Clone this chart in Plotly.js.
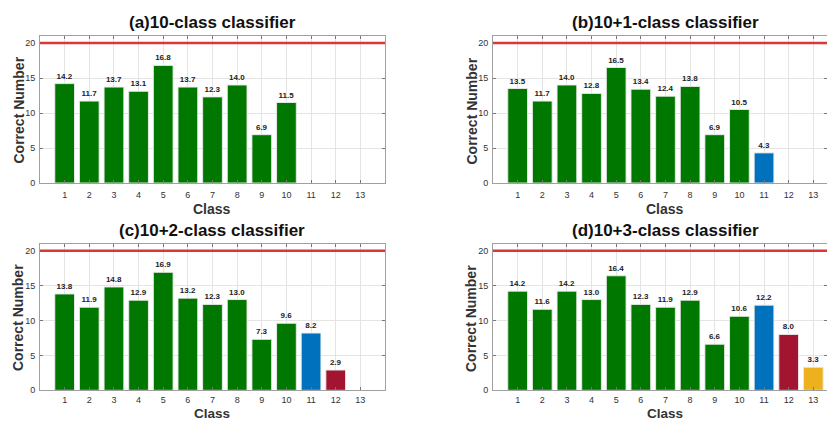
<!DOCTYPE html>
<html>
<head>
<meta charset="utf-8">
<script src="https://cdn.plot.ly/plotly-3.0.1.min.js"></script>
<style>html,body{margin:0;padding:0;background:#fff;}#chart{width:827px;height:421px;}</style>
</head>
<body>
<div id="chart"></div>
<script>
var classTicks = [1,2,3,4,5,6,7,8,9,10,11,12,13];
var titles = ["(a)10-class classifier","(b)10+1-class classifier","(c)10+2-class classifier","(d)10+3-class classifier"];
var valuesA = [14.2,11.7,13.7,13.1,16.8,13.7,12.3,14.0,6.9,11.5];
var valuesB = [13.5,11.7,14.0,12.8,16.5,13.4,12.4,13.8,6.9,10.5,4.3];
var valuesC = [13.8,11.9,14.8,12.9,16.9,13.2,12.3,13.0,7.3,9.6,8.2,2.9];
var valuesD = [14.2,11.6,14.2,13.0,16.4,12.3,11.9,12.9,6.6,10.6,12.2,8.0,3.3];
var targetLine = 20;
var yTicks = [0,5,10,15,20];

var classColors = ['#007800','#007800','#007800','#007800','#007800','#007800','#007800','#007800','#007800','#007800','#0072BD','#A2142F','#EDB120'];

var W = 827, H = 421;
function px(x){return x/W;}
function py(y){return 1 - y/H;}

var panels = [
  {vals: valuesA, x0: 40, x1: 385, y0: 36, y1: 183, xr: [0,14], cls: 25.5, cs: 14, so: 3},
  {vals: valuesB, x0: 493, x1: 827, y0: 36, y1: 183, xr: [0,(827-493)/24.64], cls: 25.5, cs: 14, so: 3},
  {vals: valuesC, x0: 40, x1: 385, y0: 243.7, y1: 390.3, xr: [0,14], cls: 23.2, cs: 13.5, so: 1},
  {vals: valuesD, x0: 493, x1: 827, y0: 243.7, y1: 390.3, xr: [0,(827-493)/24.64], cls: 23.2, cs: 13.5, so: 1}
];

var data = [], shapes = [], annotations = [];
var layout = {
  width: W, height: H,
  margin: {l:0,r:0,t:0,b:0},
  paper_bgcolor: '#fff', plot_bgcolor: '#fff',
  showlegend: false,
  font: {family: 'Liberation Sans, Arial, sans-serif', color: '#333'}
};

panels.forEach(function(p, i){
  var n = i+1;
  var xa = 'x' + (n===1?'':n), ya = 'y' + (n===1?'':n);
  var xk = 'xaxis' + (n===1?'':n), yk = 'yaxis' + (n===1?'':n);
  var xs = classTicks.slice(0, p.vals.length);
  data.push({
    type: 'bar', x: xs, y: p.vals, xaxis: xa, yaxis: ya,
    width: 0.8,
    marker: {color: classColors.slice(0, p.vals.length), line: {color: 'rgba(235,235,235,0.9)', width: 1}},
    text: p.vals.map(function(v){return v.toFixed(1);}),
    textposition: 'outside', cliponaxis: false,
    textfont: {size: 8, color: '#222', family: 'Liberation Sans, Arial, sans-serif', weight: 'bold'},
    hoverinfo: 'skip'
  });
  var xRangeMax = p.xr[1];
  layout[xk] = {
    domain: [px(p.x0), px(p.x1)], anchor: ya, range: p.xr,
    tickmode: 'array', tickvals: classTicks, ticktext: classTicks.map(String),
    showgrid: true, gridcolor: '#e4e4e4', gridwidth: 1, zeroline: false,
    showline: true, linecolor: '#a0a0a0', linewidth: 1, mirror: 'ticks',
    ticks: 'inside', ticklen: 3, tickcolor: '#777',
    tickfont: {size: 9, color: '#333'}, ticklabelstandoff: p.so, fixedrange: true
  };
  layout[yk] = {
    domain: [py(p.y1), py(p.y0)], anchor: xa, range: [0,21],
    tickmode: 'array', tickvals: yTicks,
    showgrid: true, gridcolor: '#e4e4e4', gridwidth: 1, zeroline: false,
    showline: true, linecolor: '#a0a0a0', linewidth: 1, mirror: 'ticks',
    ticks: 'inside', ticklen: 3, tickcolor: '#777',
    tickfont: {size: 9, color: '#333'}, ticklabelstandoff: 2, fixedrange: true
  };
  shapes.push({type: 'line', xref: xa, yref: ya, x0: 0, x1: xRangeMax, y0: targetLine, y1: targetLine,
    line: {color: '#d83838', width: 2.5}});
  var cx = (p.x0 + (p.x0 + 24.64*14)) / 2;
  annotations.push({text: '<b>' + titles[i] + '</b>', xref: 'paper', yref: 'paper',
    x: px(cx), y: py(p.y0 - 13.5), xanchor: 'center', yanchor: 'middle', showarrow: false,
    font: {size: 17, color: '#111'}});
  annotations.push({text: '<b>Correct Number</b>', xref: 'paper', yref: 'paper',
    x: px(p.x0 - 22), y: py((p.y0 + p.y1)/2 + 1), xanchor: 'center', yanchor: 'middle', showarrow: false,
    textangle: -90, font: {size: 14, color: '#333'}});
  annotations.push({text: '<b>Class</b>', xref: 'paper', yref: 'paper',
    x: px(cx), y: py(p.y1 + p.cls), xanchor: 'center', yanchor: 'middle', showarrow: false,
    borderpad: 0, font: {size: p.cs, color: '#333'}});
});
layout.shapes = shapes;
layout.annotations = annotations;

Plotly.newPlot('chart', data, layout, {staticPlot: true, displayModeBar: false});
</script>
</body>
</html>
